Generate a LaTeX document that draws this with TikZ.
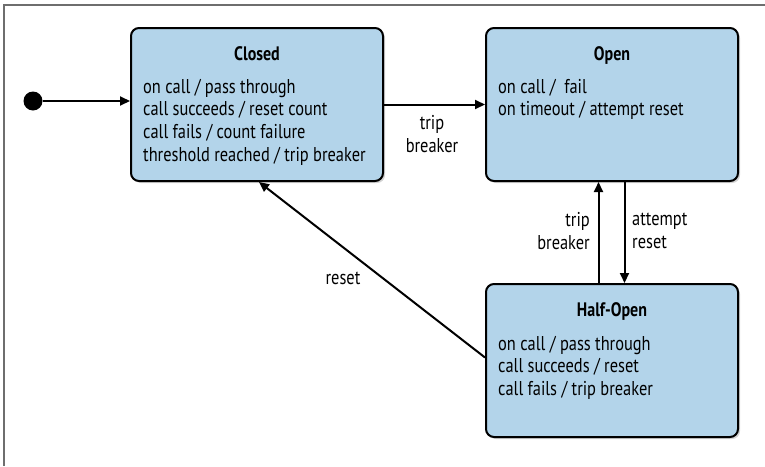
\documentclass[tikz,border=0pt]{standalone}
\usepackage{fontspec}
\setmainfont{PT Sans}[FakeStretch=0.82]
\usetikzlibrary{arrows.meta,shadows}
\definecolor{stbl}{HTML}{B3D4EA}
\definecolor{framegray}{HTML}{6E6E6E}
\begin{document}
\begin{tikzpicture}[x=1pt,y=-1pt,
  state/.style={draw=black, line width=2pt, rounded corners=8pt, fill=stbl,
    drop shadow={shadow xshift=2pt, shadow yshift=-2pt, opacity=0.35},
    minimum width=252pt, minimum height=153pt, inner sep=0pt, anchor=north west},
  title/.style={anchor=base, inner sep=0pt, font=\fontsize{19.5}{22.7}\selectfont\bfseries},
  body/.style={anchor=base west, inner sep=0pt, font=\fontsize{20}{22.7}\selectfont},
  lbl/.style={inner sep=0pt, font=\fontsize{20}{22.7}\selectfont},
  arr/.style={line width=2pt, -{Triangle[length=10pt,width=9pt]}}]
\useasboundingbox (0,0) rectangle (765,466);
\draw[framegray, line width=1.2pt] (4,466) -- (4,5) -- (765,5);

\node[state] (closed) at (130,27) {};
\node[state] (open) at (485,27) {};
\node[state] (half) at (485,283) {};

\node[title] (closedT) at ([yshift=-33pt]closed.north) {Closed};
\node[body] (closedB) at (143,93) {\begin{tabular}[t]{@{}l@{}}on call / pass through\\call succeeds / reset count\\call fails / count failure\\threshold reached / trip breaker\end{tabular}};

\node[title] (openT) at ([yshift=-33pt]open.north) {Open};
\node[body] (openB) at (498,93) {\begin{tabular}[t]{@{}l@{}}on call /\ \ fail\\on timeout / attempt reset\end{tabular}};

\node[title] (halfT) at ([yshift=-33pt]half.north) {Half-Open};
\node[body] (halfB) at (498,350) {\begin{tabular}[t]{@{}l@{}}on call / pass through\\call succeeds / reset\\call fails / trip breaker\end{tabular}};

\node[circle, fill=black, minimum size=19pt, inner sep=0pt] (init) at (33,101) {};
\draw[arr] (init) -- (init -| closed.west);

\draw[arr] (closed.east) -- (open.west);
\node[lbl, align=center] (tb1) at (432,134) {trip\\breaker};

\draw[arr] ([xshift=-13.5pt]half.north) -- ([xshift=-13.5pt]open.south);
\draw[arr] ([xshift=12.5pt]open.south) -- ([xshift=12.5pt]half.north);
\node[lbl, align=right, anchor=east] (tb2) at (590,231) {trip\\breaker};
\node[lbl, align=left, anchor=west] (ar) at (632,231) {attempt\\reset};

\draw[arr] ([yshift=3pt]half.west) -- ([xshift=2pt]closed.south);
\node[lbl] (rs) at (343,278) {reset};
\end{tikzpicture}
\end{document}
